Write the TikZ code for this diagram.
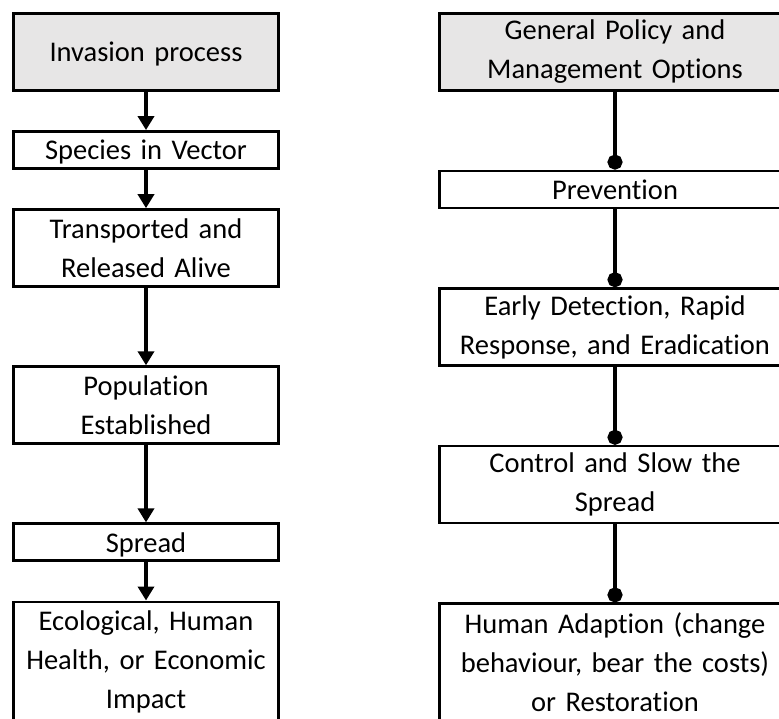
\documentclass[tikz,border=0pt]{standalone}
\usepackage{fontspec}
\setmainfont{Carlito}[Ligatures=NoCommon]
\usepackage{tikz}
\usetikzlibrary{arrows.meta,positioning}
\definecolor{cHead}{HTML}{E7E6E6}

\begin{document}
\begin{tikzpicture}[
    x=1pt, y=1pt,
    node distance=38.5pt,
    box/.style={rectangle, draw, line width=2.6pt, text width=253pt, inner xsep=6pt, inner ysep=0pt, minimum height=77pt, font=\fontsize{28.5pt}{39pt}\selectfont, align=center},
    short/.style={minimum height=37pt, text depth=0pt},
    pbox/.style={box, text width=339pt},
    arr/.style={-{Triangle[length=14pt,width=16pt]}, line width=4.5pt},
    lnk/.style={-{Circle[length=15pt]}, line width=4.5pt}
]
\useasboundingbox (0,0) rectangle (779,-718);
\clip (0,0) rectangle (779,-718);

% invasion process
\node[box, text depth=0pt, fill=cHead, anchor=north] (inv) at (146,-12) {Invasion process};
\node[box, short, below=of inv]  (vec)   {Species in Vector};
\node[box, below=of vec] (trans) {Transported and\\Released Alive};
\node[box, below=77.5pt of trans] (pop) {Population\\Established};
\node[box, short, below=77.5pt of pop] (spr) {Spread};
\node[box, minimum height=0pt, inner ysep=9pt, below=of spr] (imp) {Ecological, Human\\Health, or Economic\\Impact};

% policy and management
\node[pbox, fill=cHead, anchor=north] (gen) at (615,-12) {General Policy and\\Management Options};
\node[pbox, short, below=78pt of gen]  (prev) {Prevention};
\node[pbox, below=78pt of prev] (edrr) {Early Detection, Rapid\\Response, and Eradication};
\node[pbox, below=78pt of edrr] (ctrl) {Control and Slow the\\Spread};
\node[pbox, minimum height=0pt, inner ysep=9pt, below=78pt of ctrl] (adapt) {Human Adaption (change\\behaviour, bear the costs)\\or Restoration};

\foreach \a/\b in {inv/vec, vec/trans, trans/pop, pop/spr, spr/imp} {
  \draw[arr] (\a) -- (\b);
}
\foreach \a/\b in {gen/prev, prev/edrr, edrr/ctrl, ctrl/adapt} {
  \draw[lnk] (\a) -- (\b);
}
\end{tikzpicture}
\end{document}
